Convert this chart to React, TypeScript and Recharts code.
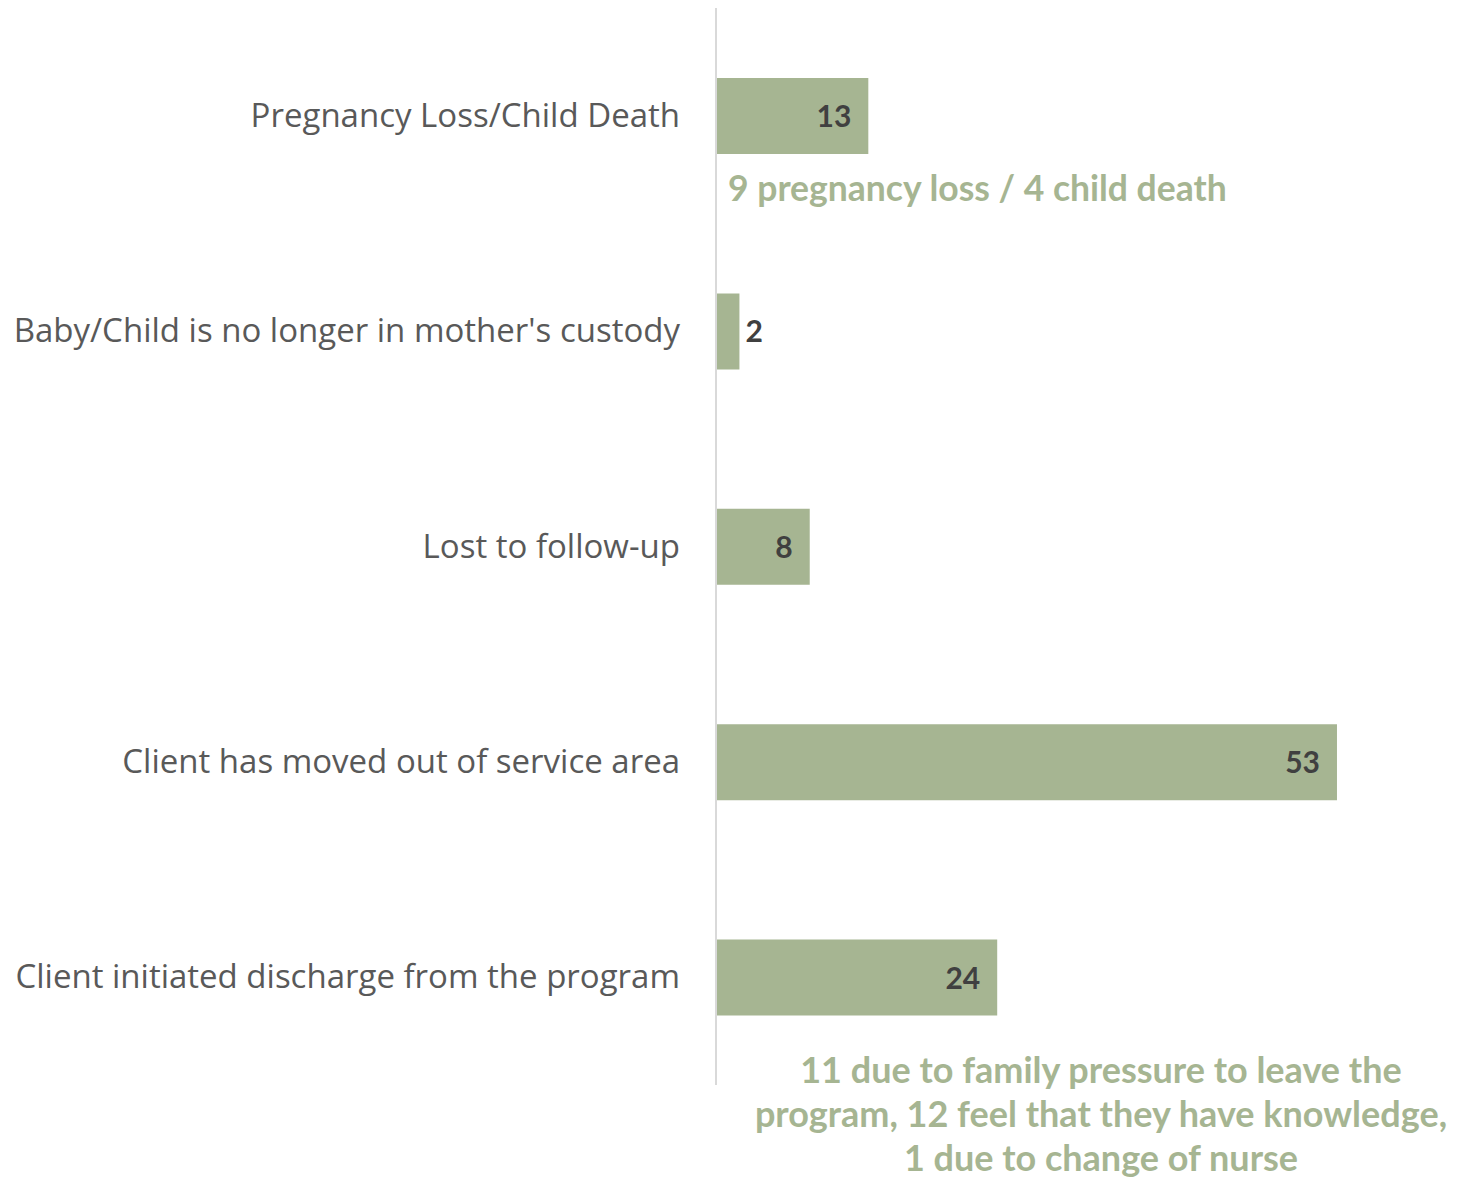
import React from "react";
import { BarChart, Bar, XAxis, YAxis, LabelList } from "recharts";

const categories = [
  "Pregnancy Loss/Child Death",
  "Baby/Child is no longer in mother's custody",
  "Lost to follow-up",
  "Client has moved out of service area",
  "Client initiated discharge from the program",
];
const values = [13, 2, 8, 53, 24];
const notes: (string[] | null)[] = [
  ["9 pregnancy loss / 4 child death"],
  null,
  null,
  null,
  [
    "11 due to family pressure to leave the",
    "program, 12 feel that they have knowledge,",
    "1 due to change of nurse",
  ],
];
const insideLabel = [true, false, true, true, true];

const data = categories.map((c, i) => ({ name: c, value: values[i], idx: i }));

const GREEN = "#A6B592";
const DARK = "#404040";
const GRAY = "#595959";

const ValueLabel = (props: any) => {
  const { x, y, width, height, value, index } = props;
  const cy = y + height / 2;
  const inside = insideLabel[index];
  const note = notes[index];
  return (
    <g>
      <text
        x={inside ? x + width - 17 : x + width + 6}
        y={cy}
        dy={11}
        textAnchor={inside ? "end" : "start"}
        fill={DARK}
        fontFamily="Lato, sans-serif"
        fontWeight={700}
        fontSize={30}
      >
        {value}
      </text>
      {note && note.length === 1 && (
        <text
          x={x + 12}
          y={y + height + 35}
          dy={12}
          textAnchor="start"
          fill={GREEN}
          fontFamily="Lato, sans-serif"
          fontWeight={700}
          fontSize={35.5}
        >
          {note[0]}
        </text>
      )}
      {note && note.length > 1 &&
        note.map((line, k) => (
          <text
            key={k}
            x={1101}
            y={y + height + 55 + k * 44}
            dy={12}
            textAnchor="middle"
            fill={GREEN}
            fontFamily="Lato, sans-serif"
            fontWeight={700}
            fontSize={36}
          >
            {line}
          </text>
        ))}
    </g>
  );
};

const CatTick = (props: any) => {
  const { x, y, payload } = props;
  return (
    <text
      x={x}
      y={y}
      dy={11}
      textAnchor="end"
      fill={GRAY}
      fontFamily="'Open Sans', sans-serif"
      fontSize={33}
    >
      {payload.value}
    </text>
  );
};

export default function App() {
  return (
    <div style={{ position: "absolute", left: 0, top: 0, width: 1483, height: 1178, background: "#fff" }}>
      <BarChart
        width={1483}
        height={1178}
        data={data}
        layout="vertical"
        margin={{ top: 8, right: 64, bottom: 93, left: 0 }}
      >
        <XAxis type="number" domain={[0, 60]} hide />
        <YAxis
          type="category"
          dataKey="name"
          width={716}
          tickLine={false}
          tickSize={0}
          tickMargin={36}
          axisLine={{ stroke: "#D9D9D9", strokeWidth: 2 }}
          tick={<CatTick />}
          interval={0}
        />
        <Bar dataKey="value" fill={GREEN} barSize={76} isAnimationActive={false}>
          <LabelList dataKey="value" content={<ValueLabel />} />
        </Bar>
      </BarChart>
    </div>
  );
}
